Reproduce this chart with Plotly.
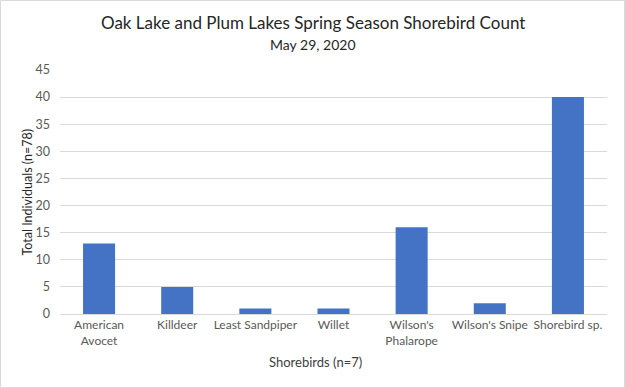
import plotly.graph_objects as go

categories = ["American<br>Avocet", "Killdeer", "Least Sandpiper", "Willet",
              "Wilson's<br>Phalarope", "Wilson's Snipe", "Shorebird sp."]
counts = [13, 5, 1, 1, 16, 2, 40]
y_ticks = [0, 5, 10, 15, 20, 25, 30, 35, 40, 45]

FONT = "Lato, Calibri, Carlito, sans-serif"
W, H = 625, 388
L, R, T, B = 60, 18, 70, 74
PW, PH = W - L - R, H - T - B


def px_x(x):
    return (x - L) / PW


def px_y(y):
    return (H - B - y) / PH


fig = go.Figure(go.Bar(x=categories, y=counts, marker=dict(color="#4472C4", line=dict(width=0)),
                       hoverinfo="x+y"))

fig.update_layout(
    width=W, height=H,
    margin=dict(l=L, r=R, t=T, b=B),
    paper_bgcolor="white", plot_bgcolor="white",
    bargap=0.59,
    showlegend=False,
    font=dict(family=FONT, color="#595959", size=12),
    annotations=[
        dict(text="Oak Lake and Plum Lakes Spring Season Shorebird Count", x=px_x(312.5), y=px_y(23),
             xref="paper", yref="paper", showarrow=False, yanchor="middle",
             font=dict(size=17, color="#262626")),
        dict(text="May 29, 2020", x=px_x(312.5), y=px_y(45), xref="paper", yref="paper",
             showarrow=False, yanchor="middle", font=dict(size=14, color="#262626")),
        dict(text="Shorebirds (n=7)", x=px_x(315), y=px_y(362), xref="paper", yref="paper",
             showarrow=False, yanchor="middle", font=dict(size=13, color="#404040")),
        dict(text="Total Individuals (n=78)", x=px_x(26.5), y=px_y(192), xref="paper", yref="paper",
             showarrow=False, xanchor="center", yanchor="middle", textangle=-90,
             font=dict(size=12.5, color="#262626")),
    ],
)

fig.update_xaxes(
    showline=True, linecolor="#D9D9D9", linewidth=1,
    ticks="", tickfont=dict(size=12, color="#595959"),
)
fig.update_yaxes(
    range=[0, 45], tickvals=y_ticks, showgrid=True, gridcolor="#D9D9D9", gridwidth=1,
    zeroline=False, showline=False, ticks="", ticklabelstandoff=9,
    tickfont=dict(size=12.5, color="#595959"),
)

fig.add_shape(type="rect", xref="paper", yref="paper",
              x0=px_x(0.5), x1=px_x(W - 0.5), y0=px_y(H - 0.5), y1=px_y(0.5),
              line=dict(color="#D9D9D9", width=1), layer="below")

fig.write_html("out.html")
